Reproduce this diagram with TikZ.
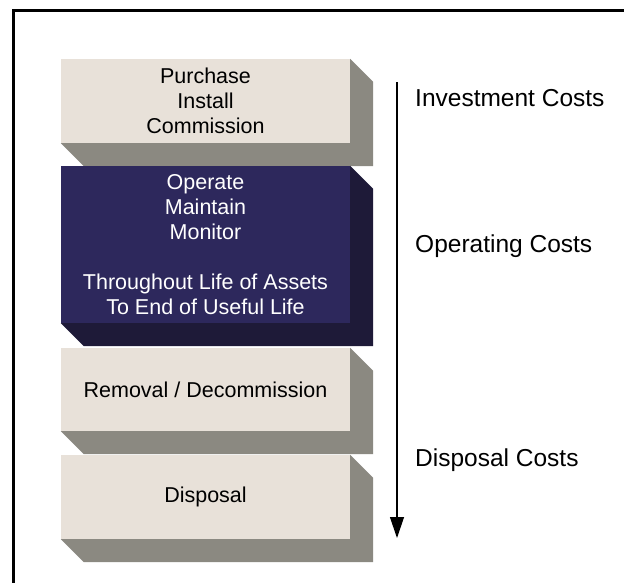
\documentclass[tikz,border=0pt]{standalone}
\usepackage{fontspec}
\setmainfont{Liberation Sans}
\usepackage{xcolor}
\usepackage{tikz}
\usetikzlibrary{shapes, arrows.meta, positioning, calc}
\definecolor{facelight}{RGB}{232,225,217}
\definecolor{sidelight}{RGB}{139,137,129}
\definecolor{facedark}{RGB}{45,40,92}
\definecolor{sidedark}{RGB}{30,26,56}
\newcommand{\boxfont}{\fontsize{21.5}{25}\selectfont}
\newcommand{\costfont}{\fontsize{24.5}{28}\selectfont}
\tikzset{
    face/.style={rectangle, minimum width=289pt, inner sep=0pt, align=center, font=\boxfont},
    lightface/.style={face, fill=facelight, text=black},
    darkface/.style={face, fill=facedark, text=white},
    costlabel/.style={anchor=base west, inner sep=0pt, font=\costfont},
    arrow/.style={-{Triangle[width=14pt, length=21pt]}, line width=1.2pt},
    frame/.style={draw=black, line width=3pt}
}
% side and bottom of a box
\newcommand{\extrude}[2]{%
    \fill[#2] (#1.north east) -- ([shift={(23,23)}]#1.north east)
        -- ([shift={(23,23)}]#1.south east) -- ([shift={(23,23)}]#1.south west)
        -- (#1.south west) -- (#1.south east) -- cycle;}
\begin{document}
\begin{tikzpicture}[x=1pt, y=-1pt]
    \useasboundingbox (0,0) rectangle (624,582);
    \begin{scope}
        \clip (0,0) rectangle (624,582);
        \draw[frame] (13.5,10.5) rectangle (650,610);
    \end{scope}

    % Boxes
    \node[lightface, minimum height=84pt] (buy) at (205.5,101) {Purchase\\Install\\Commission};
    \extrude{buy}{sidelight}
    \node[darkface, minimum height=157pt] (run) at (205.5,244.5) {Operate\\Maintain\\Monitor\\[25pt]Throughout Life of Assets\\To End of Useful Life};
    \extrude{run}{sidedark}
    \node[lightface, minimum height=83pt] (remove) at (205.5,389.5) {Removal / Decommission};
    \extrude{remove}{sidelight}
    \node[lightface, minimum height=84pt] (dispose) at (205.5,497) {Disposal};
    \extrude{dispose}{sidelight}

    % Costs
    \node[costlabel] (invest) at (415,106) {Investment Costs};
    \node[costlabel] (operate) at (415,252) {Operating Costs};
    \node[costlabel] (disposal) at (415,466) {Disposal Costs};

    % Time arrow
    \coordinate (start) at (397,82);
    \coordinate (end) at (397,538);
    \draw[arrow] (start) -- (end);
\end{tikzpicture}
\end{document}
